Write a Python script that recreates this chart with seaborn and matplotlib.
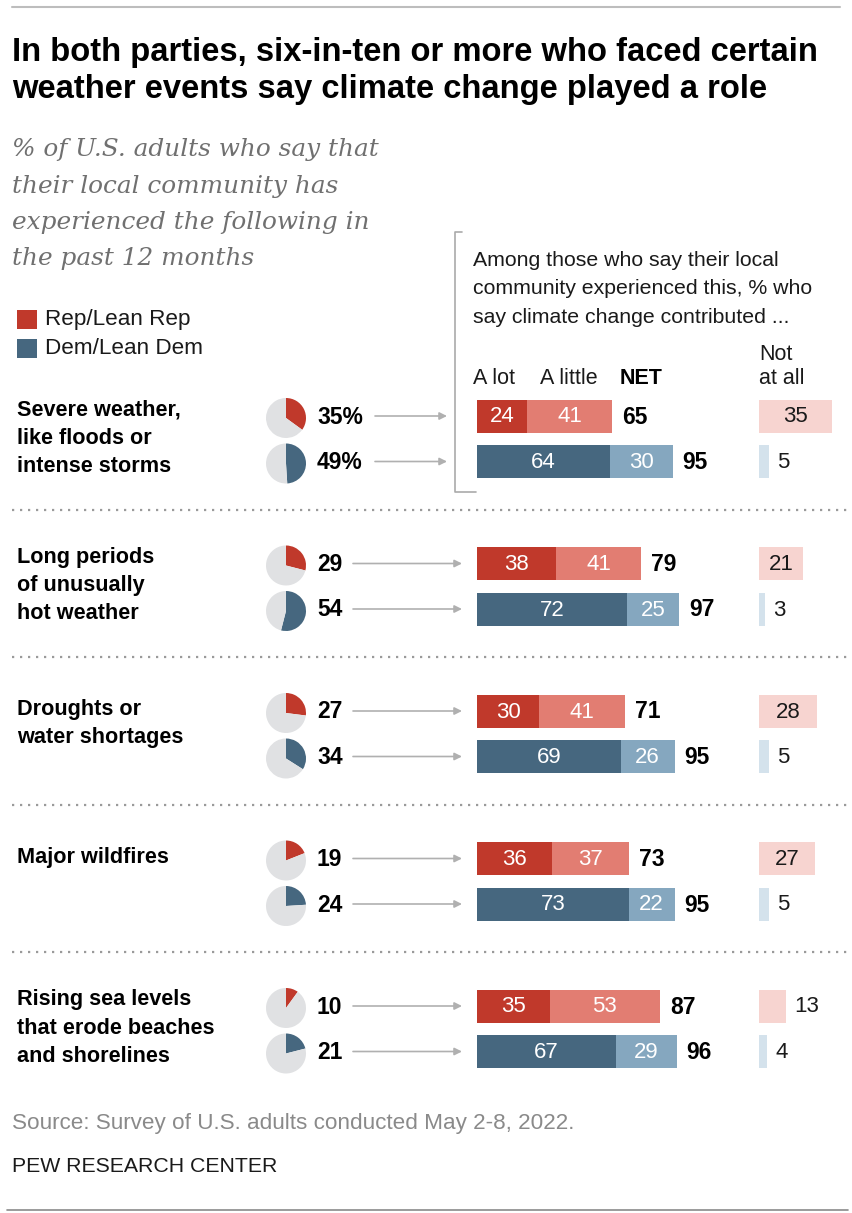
import matplotlib
matplotlib.use('Agg')
import matplotlib.pyplot as plt
import seaborn as sns

# data
events = ["Severe weather,\nlike floods or\nintense storms",
          "Long periods\nof unusually\nhot weather",
          "Droughts or\nwater shortages",
          "Major wildfires",
          "Rising sea levels\nthat erode beaches\nand shorelines"]
rep_exp = [35, 29, 27, 19, 10]
dem_exp = [49, 54, 34, 24, 21]
rep_lot = [24, 38, 30, 36, 35]
rep_little = [41, 41, 41, 37, 53]
rep_net = [65, 79, 71, 73, 87]
rep_not = [35, 21, 28, 27, 13]
dem_lot = [64, 72, 69, 73, 67]
dem_little = [30, 25, 26, 22, 29]
dem_net = [95, 97, 95, 95, 96]
dem_not = [5, 3, 5, 5, 4]

# colours
REP = ["#c0392b", "#e27d72", "#f7d4d0"]
DEM = ["#46677f", "#85a7bf", "#d4e2ec"]
PIE_GREY = "#e0e1e3"
TXT = "#1a1a1a"

sns.set_theme(style="white")
plt.rcParams['font.family'] = ['Liberation Sans', 'DejaVu Sans']

W, H = 852, 1213
fig = plt.figure(figsize=(W / 100, H / 100), dpi=100)

# layout (pixels)
PX = 2.08           # pixels per percentage point
X0 = 477            # left edge of stacked bars
NX0 = 759           # left edge of "not at all" bars
STEP = 147.5
rep_y = [416 + STEP * i for i in range(len(events))]
dem_y = [y + 45.5 for y in rep_y]
BAR_H = 33
NUM_FS = 16

# text / decoration layer in pixel coordinates
ax = fig.add_axes([0, 0, 1, 1])
ax.set_xlim(0, W)
ax.set_ylim(H, 0)
ax.axis('off')

ax.plot([12, 840], [7, 7], color="#bdbdbd", lw=1.5)
ax.plot([7, 848], [1210, 1210], color="#8a8a8a", lw=1.2)

ax.text(12, 61, "In both parties, six-in-ten or more who faced certain",
        fontsize=23.6, fontweight='bold', va='baseline', color='black')
ax.text(12, 98, "weather events say climate change played a role",
        fontsize=23.6, fontweight='bold', va='baseline', color='black')

sub = ["% of U.S. adults who say that", "their local community has",
       "experienced the following in", "the past 12 months"]
for i, line in enumerate(sub):
    ax.text(12, 156 + 36.5 * i, line, fontsize=17.8, style='italic',
            family='DejaVu Serif', color="#707070", va='baseline')

# legend
for yc, col, lab in [(319, REP[0], "Rep/Lean Rep"), (348, DEM[0], "Dem/Lean Dem")]:
    ax.add_patch(plt.Rectangle((17, yc - 9.5), 20, 19, color=col, lw=0))
    ax.text(45, yc + 1, lab, fontsize=16.2, va='center', color=TXT)

# intro text and column heads
intro = ["Among those who say their local", "community experienced this, % who",
         "say climate change contributed ..."]
for i, line in enumerate(intro):
    ax.text(473, 266 + 28.5 * i, line, fontsize=15.3, va='baseline', color=TXT)
ax.text(473, 379, "A lot", fontsize=15.5, va='center', color=TXT)
ax.text(540, 379, "A little", fontsize=15.5, va='center', color=TXT)
ax.text(620, 379, "NET", fontsize=15.5, va='center', fontweight='bold', color='black')
ax.text(759, 355, "Not", fontsize=15.5, va='center', color=TXT)
ax.text(759, 379, "at all", fontsize=15.5, va='center', color=TXT)

# bracket
ax.plot([462, 455, 455, 476], [232, 232, 492, 492], color="#aaaaaa", lw=1.2)

# separators
for y in rep_y[:-1]:
    ax.plot([12, 848], [y + 93.5, y + 93.5], color="#9a9a9a", lw=1.6,
            linestyle=(0, (1, 2.6)))

# row labels, pies, arrows
for i, ev in enumerate(events):
    n_lines = ev.count("\n") + 1
    first = rep_y[i] - 6 if n_lines == 3 else rep_y[i] - 1
    for k, line in enumerate(ev.split("\n")):
        ax.text(17, first + 28 * k, line, fontsize=15.6, fontweight='bold',
                va='center', color='black')
    for y, v, col in [(rep_y[i], rep_exp[i], REP[0]), (dem_y[i], dem_exp[i], DEM[0])]:
        pa = fig.add_axes([(286 - 25) / W, 1 - (y + 2 + 25) / H, 50 / W, 50 / H])
        pa.pie([v, 100 - v], colors=[col, PIE_GREY], startangle=90,
               counterclock=False, wedgeprops=dict(lw=0))
        lab = f"{v}%" if i == 0 else f"{v}"
        ax.text(317, y + 1, lab, fontsize=16.5, fontweight='bold', va='center',
                color='black')
        x_start, x_end = (375, 447) if i == 0 else (353, 462)
        ax.annotate("", xy=(x_end, y), xytext=(x_start, y),
                    arrowprops=dict(arrowstyle='-|>', color="#b0b0b0", lw=1.2,
                                    mutation_scale=11, shrinkA=0, shrinkB=0))

# stacked bars: full (lot + little) in light colour, "a lot" drawn on top
bx = fig.add_axes([0, 0, 1, 1], facecolor='none')
nx = fig.add_axes([0, 0, 1, 1], facecolor='none')
rep_sum = [a + b for a, b in zip(rep_lot, rep_little)]
dem_sum = [a + b for a, b in zip(dem_lot, dem_little)]
wid = BAR_H / STEP
for pos, full, lot, cols in [(rep_y, rep_sum, rep_lot, REP), (dem_y, dem_sum, dem_lot, DEM)]:
    sns.barplot(x=full, y=pos, orient='y', native_scale=True, color=cols[1],
                saturation=1, width=wid, errorbar=None, ax=bx, linewidth=0)
    sns.barplot(x=lot, y=pos, orient='y', native_scale=True, color=cols[0],
                saturation=1, width=wid, errorbar=None, ax=bx, linewidth=0)
for pos, vals, col in [(rep_y, rep_not, REP[2]), (dem_y, dem_not, DEM[2])]:
    sns.barplot(x=vals, y=pos, orient='y', native_scale=True, color=col,
                saturation=1, width=wid, errorbar=None, ax=nx, linewidth=0)

for a, x0 in [(bx, X0), (nx, NX0)]:
    a.set_xlim(-x0 / PX, (W - x0) / PX)
    a.set_ylim(H, 0)
    a.axis('off')

gap = 10 / PX
for pos, lot, little, net, notv in [(rep_y, rep_lot, rep_little, rep_net, rep_not),
                                    (dem_y, dem_lot, dem_little, dem_net, dem_not)]:
    for i in range(len(events)):
        y = pos[i] + 1
        bx.text(lot[i] / 2, y, str(lot[i]), color='white', fontsize=NUM_FS,
                ha='center', va='center')
        bx.text(lot[i] + little[i] / 2, y, str(little[i]), color='white',
                fontsize=NUM_FS, ha='center', va='center')
        bx.text(lot[i] + little[i] + gap, y, str(net[i]), fontsize=NUM_FS + 0.5,
                fontweight='bold', ha='left', va='center', color='black')
        if notv[i] >= 20:
            nx.text(notv[i] / 2, y, str(notv[i]), fontsize=NUM_FS, ha='center',
                    va='center', color=TXT)
        else:
            nx.text(notv[i] + 8 / PX, y, str(notv[i]), fontsize=NUM_FS, ha='left',
                    va='center', color=TXT)

ax.text(12, 1124, "Source: Survey of U.S. adults conducted May 2-8, 2022.",
        fontsize=16.2, color="#8a8a8a", va='center')
ax.text(12, 1167, "PEW RESEARCH CENTER", fontsize=15.3, color=TXT,
        va='center')

fig.savefig("out.png", dpi=100)
